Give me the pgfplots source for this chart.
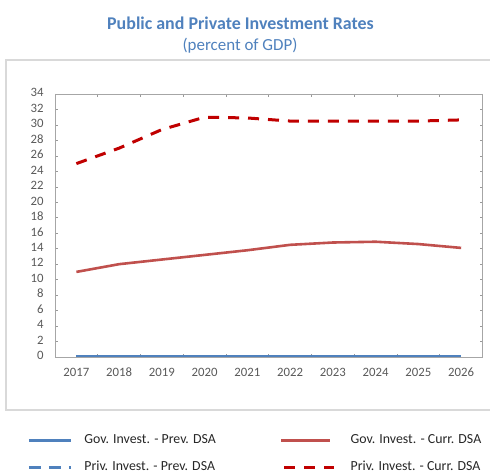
\documentclass[border=0pt]{standalone}
\usepackage{pgfplots}
\pgfplotsset{compat=1.18}
\usepackage{fontspec}
\setmainfont{Carlito}[Numbers=Lining]
\definecolor{govprev}{HTML}{4F81BD}
\definecolor{govcurr}{HTML}{C0504D}
\definecolor{privcurr}{HTML}{C00000}
\definecolor{ttl}{HTML}{4F81BD}
\definecolor{lbl}{HTML}{595959}
\pgfplotsset{
  longleg/.style={legend image code/.code={\draw[##1] (0bp,0bp) -- (49bp,0bp); \path (56bp,0bp);}},
  longdash/.style={legend image code/.code={\draw[##1] (3bp,0bp) -- (53bp,0bp); \path (56bp,0bp);}},
}
\begin{document}
\begin{tikzpicture}[x=1bp,y=1bp]
\path[use as bounding box] (0,0) rectangle (490,474);
% outer chart frame
\draw[color=black!15, line width=1.2bp] (6,64) rectangle (496,414);
\node[font=\fontsize{18}{20}\selectfont\bfseries, text=ttl] at (240.5,451) {Public and Private Investment Rates};
\node[font=\fontsize{17}{19}\selectfont, text=ttl] at (240,428) {(percent of GDP)};
\begin{axis}[
  at={(55bp,117bp)}, anchor=south west,
  scale only axis,
  width=427.5bp, height=263bp,
  xmin=-0.5, xmax=9.5,
  ymin=0, ymax=34,
  xtick={0,...,9},
  xticklabels={2017,2018,2019,2020,2021,2022,2023,2024,2025,2026},
  minor xtick={-0.5,0.5,...,9.5},
  ytick={0,2,...,34},
  tick align=inside,
  major tick length=3bp, minor tick length=3bp,
  major x tick style={draw=none},
  every tick/.style={color=black!40, line width=0.6bp},
  axis line style={color=black!35, line width=0.8bp},
  ticklabel style={font=\fontsize{12.8}{14}\selectfont, text=lbl},
  typeset ticklabels with strut,
  /pgf/number format/assume math mode=true,
  /pgf/number format/1000 sep={},
  xticklabel style={yshift=-6bp},
  yticklabel style={xshift=-8bp},
  legend columns=2,
  legend cell align=left,
  legend image code/.code={\draw[#1] (0bp,0bp) -- (42bp,0bp);},
  legend style={at={(-0.0655,-0.292)}, anchor=north west, draw=none, fill=none, inner sep=0pt,
    font=\fontsize{13.9}{15}\selectfont, text=black!85,
    nodes={inner sep=0pt, text height=10bp, text depth=3bp},
    row sep=14bp,
    /tikz/every odd column/.append style={column sep=12bp},
    /tikz/every even column/.append style={column sep=64bp}},
]
% Gov. Invest. - Prev. DSA
\addplot[govprev, line width=3.2bp] coordinates {
  (0,0) (1,0) (2,0) (3,0) (4,0) (5,0) (6,0) (7,0) (8,0) (9,0)};
\addlegendentry{Gov. Invest. - Prev. DSA}
% Gov. Invest. - Curr. DSA
\addplot[govcurr, line width=2.6bp, longleg] coordinates {
  (0,11.0) (1,12.0) (2,12.6) (3,13.2) (4,13.8) (5,14.5) (6,14.8) (7,14.9) (8,14.6) (9,14.1)};
\addlegendentry{Gov. Invest. - Curr. DSA}
% Priv. Invest. - Prev. DSA
\addplot[govprev, line width=3bp, dash pattern=on 12bp off 8bp] coordinates {
  (0,0) (1,0) (2,0) (3,0) (4,0) (5,0) (6,0) (7,0) (8,0) (9,0)};
\addlegendentry{Priv. Invest. - Prev. DSA}
% Priv. Invest. - Curr. DSA
\addplot[privcurr, line width=3bp, dash pattern=on 11bp off 9bp, longdash] coordinates {
  (0,25.0) (1,27.0) (2,29.4) (3,31.0) (4,30.9) (5,30.5) (6,30.5) (7,30.5) (8,30.5) (9,30.65)};
\addlegendentry{Priv. Invest. - Curr. DSA}
\end{axis}
\end{tikzpicture}
\end{document}
